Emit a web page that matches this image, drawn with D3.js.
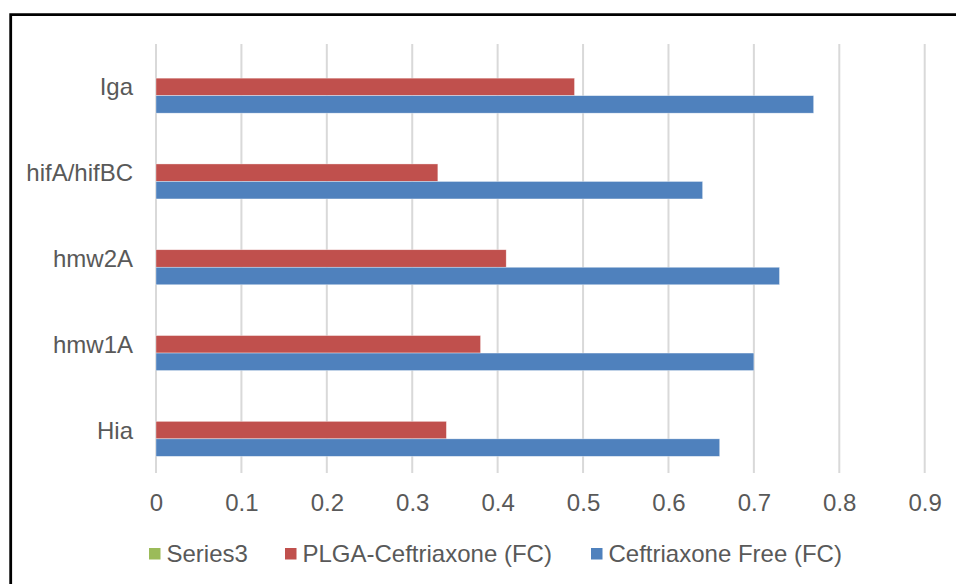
<!DOCTYPE html>
<html>
<head>
<meta charset="utf-8">
<script src="https://cdn.jsdelivr.net/npm/d3@7/dist/d3.min.js"></script>
<style>
  html, body { margin: 0; padding: 0; background: #fff; }
  svg { display: block; }
  text { font-family: "Liberation Sans", Arial, sans-serif; fill: #595959; }
</style>
</head>
<body>
<svg id="chart" width="956" height="584"></svg>
<script>
// Gene categories, drawn top to bottom
const categories = ["Iga", "hifA/hifBC", "hmw2A", "hmw1A", "Hia"];
// Series in legend order; Series3 carries no values
const seriesNames = ["Series3", "PLGA-Ceftriaxone (FC)", "Ceftriaxone Free (FC)"];
const seriesColors = ["#9BBB59", "#C0504D", "#4F81BD"];
const series3Values = [null, null, null, null, null];
const plgaValues = [0.49, 0.33, 0.41, 0.38, 0.34];
const freeValues = [0.77, 0.64, 0.73, 0.70, 0.66];
const xTicks = [0, 0.1, 0.2, 0.3, 0.4, 0.5, 0.6, 0.7, 0.8, 0.9];

const seriesValues = [series3Values, plgaValues, freeValues];
const fontSize = "24px";

const svg = d3.select("#chart");

// Chart frame
svg.append("path")
  .attr("d", "M10.7,600 V14.7 H970")
  .attr("fill", "none")
  .attr("stroke", "#000")
  .attr("stroke-width", 2.8);

const plot = { left: 156, right: 924.7, top: 44, bottom: 473 };

const x = d3.scaleLinear().domain([0, 0.9]).range([plot.left, plot.right]);
const y = d3.scaleBand().domain(categories).range([plot.top, plot.bottom])
  .paddingInner(0.388).paddingOuter(0.194);
const ySub = d3.scaleBand().domain(seriesNames).range([0, y.bandwidth()]);

// Vertical gridlines
svg.append("g")
  .selectAll("line")
  .data(xTicks)
  .join("line")
  .attr("x1", d => x(d)).attr("x2", d => x(d))
  .attr("y1", plot.top).attr("y2", plot.bottom)
  .attr("stroke", "#d9d9d9")
  .attr("stroke-width", 2);

// Bars
seriesNames.forEach((name, si) => {
  svg.append("g")
    .selectAll("rect")
    .data(categories.map((c, i) => ({ c, v: seriesValues[si][i] })).filter(d => d.v != null))
    .join("rect")
    .attr("x", x(0))
    .attr("y", d => y(d.c) + ySub(name))
    .attr("width", d => x(d.v) - x(0))
    .attr("height", ySub.bandwidth())
    .attr("fill", seriesColors[si])
    .attr("stroke", "rgba(255,255,255,0.6)")
    .attr("stroke-width", 0.6);
});

// X axis labels
const xAxis = d3.axisBottom(x).tickValues(xTicks).tickSize(0).tickPadding(0)
  .tickFormat(d => d3.format("")(d));
svg.append("g")
  .attr("transform", `translate(0,${plot.bottom})`)
  .call(xAxis)
  .call(g => g.select(".domain").remove())
  .call(g => g.selectAll("text")
    .attr("y", 38)
    .attr("dy", 0)
    .style("font-size", fontSize)
    .style("font-family", "'Liberation Sans', Arial, sans-serif")
    .attr("fill", "#595959"));

// Category labels
const yAxis = d3.axisLeft(y).tickSize(0).tickPadding(23);
svg.append("g")
  .attr("transform", `translate(${plot.left},0)`)
  .call(yAxis)
  .call(g => g.select(".domain").remove())
  .call(g => g.selectAll("text")
    .attr("dy", "0.35em")
    .style("font-size", fontSize)
    .style("font-family", "'Liberation Sans', Arial, sans-serif")
    .attr("fill", "#595959"));

// Legend
const legendX = [149, 285, 591];
const legend = svg.append("g");
seriesNames.forEach((name, i) => {
  legend.append("rect")
    .attr("x", legendX[i]).attr("y", 548)
    .attr("width", 11.5).attr("height", 11.5)
    .attr("fill", seriesColors[i]);
  legend.append("text")
    .attr("x", legendX[i] + 17.5).attr("y", 561.5)
    .style("font-size", fontSize)
    .text(name);
});
</script>
</body>
</html>
